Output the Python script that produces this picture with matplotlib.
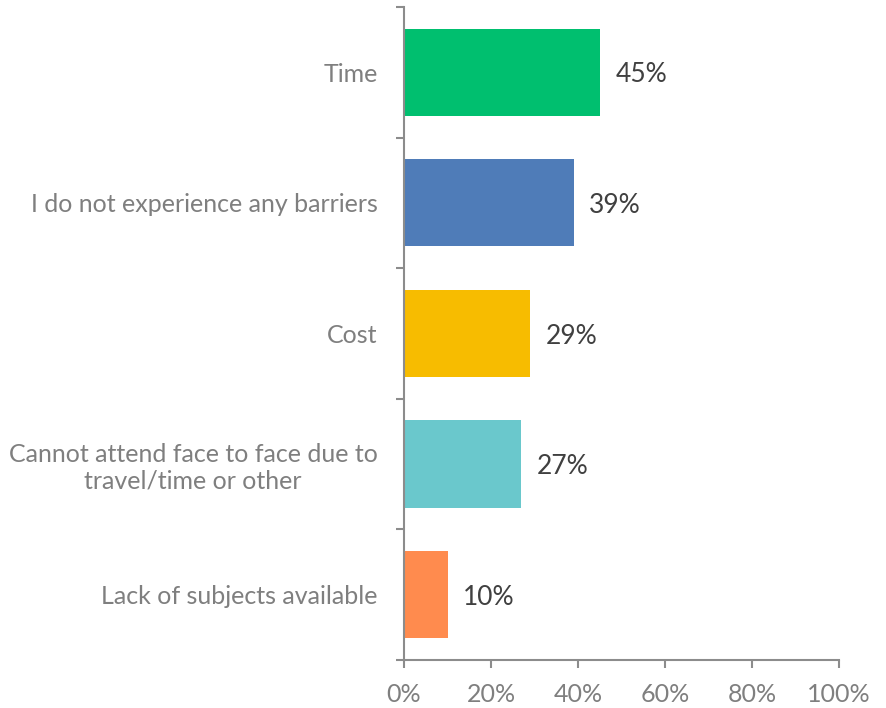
import matplotlib
matplotlib.use("Agg")
from matplotlib import pyplot as plt
from matplotlib.ticker import FuncFormatter

plt.rcParams['font.family'] = ['Lato', 'DejaVu Sans']

# Barriers to study, share of respondents (%), top to bottom
categories = [
    "Time",
    "I do not experience any barriers",
    "Cost",
    "Cannot attend face to face due to\ntravel/time or other",
    "Lack of subjects available",
]
values = [45, 39, 29, 27, 10]
colors = ["#00bf6f", "#4f7cb8", "#f7bc00", "#6ac8cc", "#ff8b4e"]

fig = plt.figure(figsize=(8.87, 7.08), dpi=100)
ax = fig.add_axes([0.4555, 0.068, 0.4904, 0.922])

pos = list(range(len(categories)))
bars = ax.barh(pos, values, height=0.667, color=colors)
ax.set_ylim(len(categories) - 0.5, -0.5)
ax.set_xlim(0, 100)

for rect, v in zip(bars, values):
    ax.text(rect.get_width() + 3.6, rect.get_y() + rect.get_height() / 2 + 0.02,
            f"{v}%", va="center", ha="left", fontsize=19, color="#404040")

axis_grey = "#8c8c8c"
for side in ("top", "right"):
    ax.spines[side].set_visible(False)
ax.spines["left"].set_color(axis_grey)
ax.spines["bottom"].set_color(axis_grey)
ax.spines["left"].set_linewidth(1.5)
ax.spines["bottom"].set_linewidth(1.5)

ax.set_xticks(range(0, 101, 20))
ax.xaxis.set_major_formatter(FuncFormatter(lambda x, _: f"{x:.0f}%"))
ax.tick_params(axis="x", colors=axis_grey, labelcolor="#7f7f7f", length=6,
               width=1.5, labelsize=18, pad=11)

# category boundaries carry the tick marks, names sit between them
ax.set_yticks([p - 0.5 for p in pos] + [len(categories) - 0.5])
ax.set_yticklabels([])
ax.tick_params(axis="y", colors=axis_grey, length=6, width=1.5)
ax.set_yticks(pos, minor=True)
ax.set_yticklabels(categories, minor=True, fontsize=18, color="#7f7f7f",
                   multialignment="center")
ax.tick_params(axis="y", which="minor", length=0, pad=19)

fig.savefig("out.png", dpi=100)
